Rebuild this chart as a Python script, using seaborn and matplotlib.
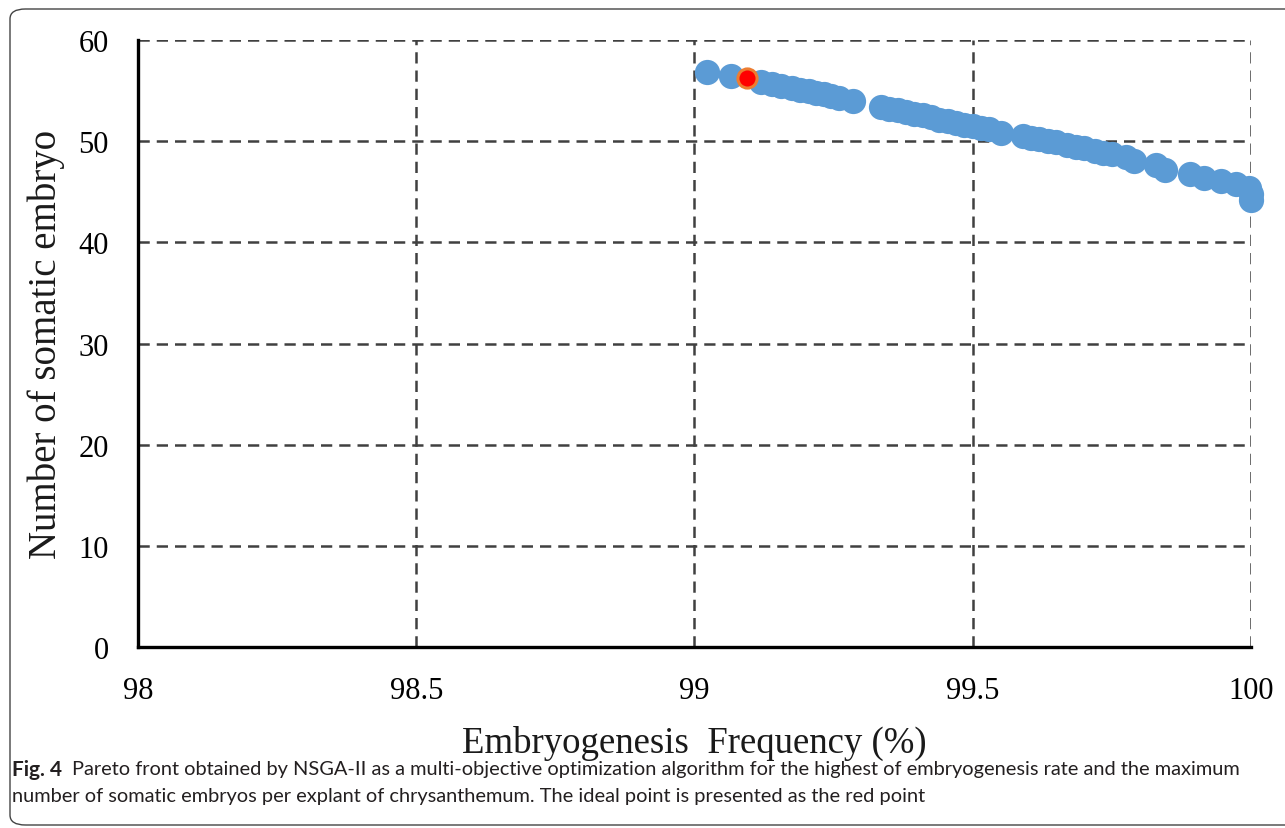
import matplotlib
matplotlib.use('Agg')
import matplotlib.pyplot as plt
from matplotlib.patches import FancyBboxPatch
import seaborn as sns
import pandas as pd

# pareto front points
freq = [99.022, 99.065, 99.12, 99.14, 99.155, 99.175, 99.19, 99.205, 99.218, 99.232,
        99.245, 99.26, 99.285, 99.335, 99.35, 99.365, 99.38, 99.395, 99.41, 99.425,
        99.44, 99.455, 99.47, 99.485, 99.5, 99.515, 99.53, 99.55, 99.59, 99.605,
        99.62, 99.635, 99.65, 99.67, 99.685, 99.7, 99.72, 99.735, 99.75, 99.775,
        99.79, 99.83, 99.845, 99.89, 99.915, 99.946, 99.973, 99.996, 100.0, 100.0]
embryos = [56.8, 56.4, 55.9, 55.7, 55.5, 55.3, 55.1, 54.95, 54.8, 54.65,
           54.5, 54.3, 54.0, 53.4, 53.2, 53.05, 52.85, 52.7, 52.55, 52.4,
           52.1, 51.95, 51.8, 51.65, 51.5, 51.35, 51.2, 50.8, 50.5, 50.35,
           50.2, 50.05, 49.9, 49.6, 49.45, 49.3, 49.0, 48.85, 48.7, 48.4,
           48.0, 47.6, 47.2, 46.8, 46.4, 46.1, 45.8, 45.4, 44.8, 44.2]
ideal_freq = [99.094]
ideal_embryos = [56.2]

x_ticks = [98, 98.5, 99, 99.5, 100]
x_labels = ['98', '98.5', '99', '99.5', '100']
y_ticks = [0, 10, 20, 30, 40, 50, 60]

caption_bold = 'Fig. 4'
caption_1 = ('Pareto front obtained by NSGA-II as a multi-objective optimization algorithm '
             'for the highest of embryogenesis rate and the maximum')
caption_2 = ('number of somatic embryos per explant of chrysanthemum. '
             'The ideal point is presented as the red point')

pareto = pd.DataFrame({'freq': freq, 'embryos': embryos})
ideal = pd.DataFrame({'freq': ideal_freq, 'embryos': ideal_embryos})

sns.set_style('white')
plt.rcParams['font.family'] = ['Liberation Serif', 'DejaVu Serif']

fig = plt.figure(figsize=(12.85, 8.29), dpi=100)
ax = fig.add_axes([0.1074, 0.2183, 0.8661, 0.7322])

sns.scatterplot(data=pareto, x='freq', y='embryos', ax=ax, color='#5B9BD5',
                s=330, linewidth=0, zorder=3, clip_on=False)
sns.scatterplot(data=ideal, x='freq', y='embryos', ax=ax, color='#FF0000',
                s=190, edgecolor='#ED7D31', linewidth=2.2, zorder=4, clip_on=False)

ax.set_xlim(98, 100)
ax.set_ylim(0, 60)
ax.set_xticks(x_ticks)
ax.set_xticklabels(x_labels)
ax.set_yticks(y_ticks)
ax.tick_params(axis='both', labelsize=22, colors='black', direction='out',
               length=7, width=2.2)
ax.tick_params(axis='y', pad=14)
ax.tick_params(axis='x', pad=14)

ax.grid(True, linestyle=(0, (4.5, 2.8)), color='#404040', linewidth=1.8)
ax.set_axisbelow(True)
for side in ['top', 'right']:
    ax.spines[side].set_visible(False)
for side in ['left', 'bottom']:
    ax.spines[side].set_linewidth(2.4)
    ax.spines[side].set_color('black')
    ax.spines[side].set_zorder(2)

ax.set_xlabel('Embryogenesis  Frequency (%)', fontsize=26.5, color='#1a1a1a', labelpad=14)
ax.set_ylabel('Number of somatic embryo', fontsize=28, color='#1a1a1a', labelpad=10)

# caption under the chart
cap_font = ['Lato', 'DejaVu Sans']
y1 = 1 - 770 / 829
y2 = 1 - 797 / 829
t_bold = fig.text(12 / 1285, y1, caption_bold, fontsize=15, fontweight='bold',
                  family=cap_font, va='center', ha='left', color='#231f20')
fig.canvas.draw()
bb = t_bold.get_window_extent()
fig.text((bb.x1 + 10) / 1285, y1, caption_1, fontsize=14.4, family=cap_font,
         va='center', ha='left', color='#231f20')
fig.text(12 / 1285, y2, caption_2, fontsize=14.4, family=cap_font,
         va='center', ha='left', color='#231f20')

# rounded frame round the whole figure
frame = FancyBboxPatch((10 / 1285, 3 / 829), 1320 / 1285, 816 / 829,
                       boxstyle='round,pad=0,rounding_size=0.012',
                       transform=fig.transFigure, fill=False,
                       edgecolor='#444444', linewidth=1.0)
fig.patches.append(frame)

fig.savefig('out.png', dpi=100)
